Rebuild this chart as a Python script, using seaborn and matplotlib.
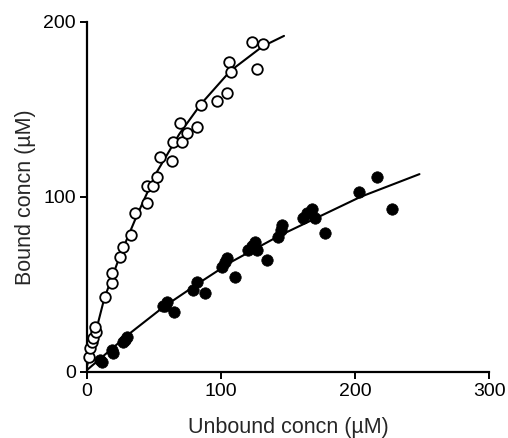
import matplotlib
matplotlib.use("Agg")
import matplotlib.pyplot as plt
import seaborn as sns
import pandas as pd

# open circles
open_x = [1.5, 2.2, 3.7, 4.5, 6.7, 6.0, 13.4, 18.7, 18.7, 24.6, 26.9, 32.8, 35.8,
          44.8, 44.8, 49.3, 52.2, 54.5, 63.4, 64.2, 70.9, 74.6, 69.4, 82.1, 85.1,
          97.0, 104.5, 106.0, 107.5, 126.9, 123.1, 131.3]
open_y = [8.6, 13.7, 17.1, 19.4, 22.9, 25.7, 42.9, 50.9, 56.6, 65.7, 71.4, 78.3, 90.9,
          96.6, 106.3, 106.3, 111.4, 122.9, 120.6, 131.4, 131.4, 136.6, 142.3, 140.0, 152.6,
          154.9, 159.4, 177.1, 171.4, 173.1, 188.6, 187.4]

# filled circles
filled_x = [9.7, 11.2, 18.7, 19.4, 26.9, 28.4, 29.9, 56.7, 58.2, 59.7, 64.9, 79.1, 82.1,
            88.1, 100.7, 103.0, 104.5, 110.4, 120.1, 123.1, 125.4, 126.9, 134.3, 142.5,
            144.8, 145.5, 161.2, 164.2, 167.9, 170.1, 177.6, 203.0, 216.4, 227.6]
filled_y = [6.9, 5.7, 12.6, 10.9, 17.1, 18.3, 20.0, 37.7, 37.7, 40.0, 34.3, 46.9, 51.4,
            45.1, 60.0, 62.9, 65.1, 54.3, 69.7, 72.0, 74.3, 69.7, 64.0, 77.1,
            81.1, 84.0, 88.0, 90.9, 93.1, 88.0, 79.4, 102.9, 111.4, 93.1]

# fitted curves
open_fit_x = [0, 6, 13, 25, 36, 43, 52, 69, 85, 107, 131, 147]
open_fit_y = [3, 21, 42, 67, 87, 99, 114, 136, 153, 172, 186, 192]
filled_fit_x = [0, 32, 57, 84, 108, 144, 174, 204, 248]
filled_fit_y = [1, 22, 37, 51, 63, 78, 89, 100, 113]

sns.set_style("ticks")
plt.rcParams["font.family"] = ["Liberation Sans", "DejaVu Sans"]

fig = plt.figure(figsize=(5.08, 4.38), dpi=100)
ax = fig.add_axes([0.171, 0.151, 0.792, 0.799])

sns.lineplot(x=open_fit_x, y=open_fit_y, ax=ax, color="black", lw=1.5, sort=False)
sns.lineplot(x=filled_fit_x, y=filled_fit_y, ax=ax, color="black", lw=1.5, sort=False)
sns.scatterplot(x=open_x, y=open_y, ax=ax, marker="o", s=58, facecolor="white",
                edgecolor="black", linewidth=1.3, zorder=3, clip_on=False)
sns.scatterplot(x=filled_x, y=filled_y, ax=ax, marker="o", s=68, color="black",
                edgecolor="black", linewidth=0.5, zorder=3, clip_on=False)

ax.set_xlim(0, 300)
ax.set_ylim(0, 200)
ax.set_xticks([0, 100, 200, 300])
ax.set_yticks([0, 100, 200])
ax.tick_params(direction="out", length=5, width=1.4, labelsize=14, colors="black", pad=3)
sns.despine(ax=ax)
for s in ["left", "bottom"]:
    ax.spines[s].set_linewidth(1.6)
    ax.spines[s].set_color("black")
ax.set_xlabel("Unbound concn (µM)", fontsize=15.5, labelpad=12)
ax.set_ylabel("Bound concn (µM)", fontsize=15.5, labelpad=5)

fig.savefig("out.png", dpi=100)
